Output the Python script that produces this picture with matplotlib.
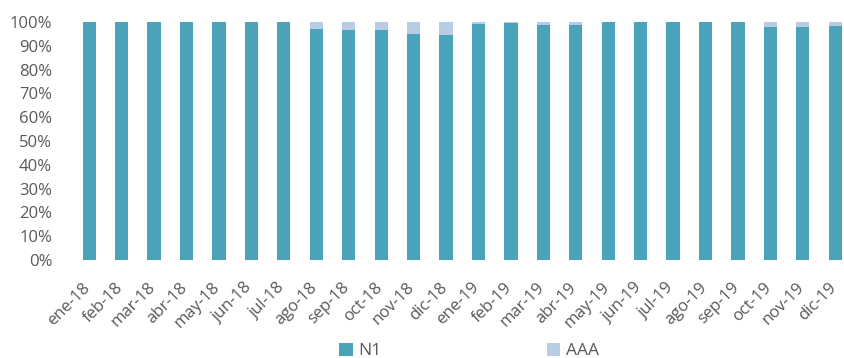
import matplotlib as mpl
mpl.use("Agg")
import matplotlib.pyplot as plt
from matplotlib.ticker import PercentFormatter
from matplotlib.transforms import ScaledTranslation

months = ["ene-18", "feb-18", "mar-18", "abr-18", "may-18", "jun-18", "jul-18",
          "ago-18", "sep-18", "oct-18", "nov-18", "dic-18",
          "ene-19", "feb-19", "mar-19", "abr-19", "may-19", "jun-19", "jul-19",
          "ago-19", "sep-19", "oct-19", "nov-19", "dic-19"]
n1 = [100, 100, 100, 100, 100, 100, 100, 97.0, 96.6, 96.6, 95.0, 94.4,
      99.3, 99.5, 98.7, 98.7, 100, 100, 100, 100, 100, 97.8, 97.8, 98.3]
aaa = [100 - v for v in n1]

plt.rcParams['font.family'] = ['Open Sans', 'DejaVu Sans']
grey = "#595959"

fig = plt.figure(figsize=(8.45, 3.58), dpi=100)
ax = fig.add_axes([73 / 845, 0.274, 1 - 73 / 845, 0.6645])

x = range(len(months))
ax.bar(x, n1, width=0.41, color="#4AA3B9", label="N1")
ax.bar(x, aaa, width=0.41, bottom=n1, color="#B8CCE4", label="AAA")

ax.set_ylim(0, 100)
ax.set_xlim(-0.5, 23.3)
ax.set_yticks(range(0, 101, 10))
ax.yaxis.set_major_formatter(PercentFormatter(decimals=0))
ax.set_xticks(list(x))
ax.set_xticklabels(months, rotation=45, ha="right", rotation_mode="anchor")
ax.tick_params(axis="both", length=0, colors=grey, labelsize=12)
ax.tick_params(axis="y", pad=15)
ax.tick_params(axis="x", pad=12)
# nudge the slanted month labels a bit down-left
shift = ScaledTranslation(-0.07, -0.03, fig.dpi_scale_trans)
for lbl in ax.get_xticklabels():
    lbl.set_transform(lbl.get_transform() + shift)
for s in ax.spines.values():
    s.set_visible(False)

fig.legend(loc="center", bbox_to_anchor=(0.555, 0.02), ncol=2, frameon=False,
           handlelength=0.8, handleheight=0.8, columnspacing=9.5,
           handletextpad=0.3, fontsize=12.5, labelcolor=grey)

plt.savefig("out.png", dpi=100)
